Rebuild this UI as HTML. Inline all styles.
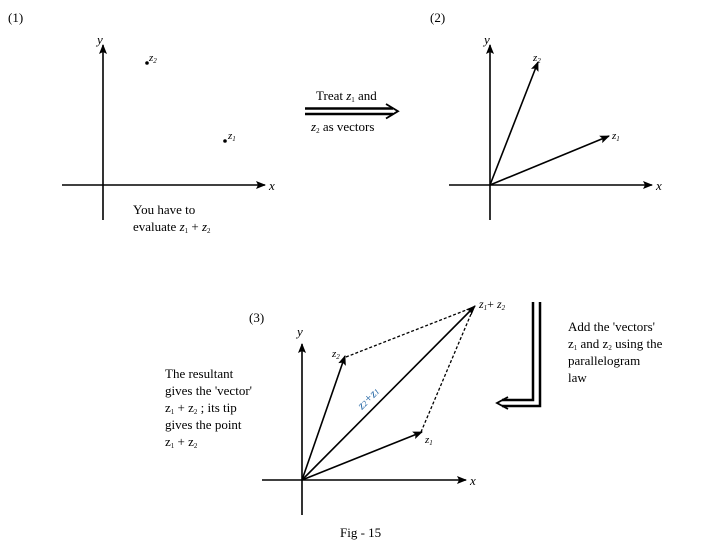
<!DOCTYPE html>
<html><head><style>
body{margin:0;background:#fff}
svg{display:block;font-family:"Liberation Serif",serif;font-size:13px}
.i{font-style:italic}
</style></head><body>
<svg width="708" height="545" viewBox="0 0 708 545">
<defs>
<marker id="a" markerWidth="10" markerHeight="8" refX="9" refY="4" orient="auto" markerUnits="userSpaceOnUse"><path d="M0,0 L10,4 L0,8 L2,4Z" fill="#000"/></marker>
</defs>
<g stroke="#000" stroke-width="1.6" fill="none">
<line x1="62" y1="185" x2="265" y2="185" marker-end="url(#a)"/>
<line x1="103" y1="220" x2="103" y2="45" marker-end="url(#a)"/>
<line x1="449" y1="185" x2="652" y2="185" marker-end="url(#a)"/>
<line x1="490" y1="220" x2="490" y2="45" marker-end="url(#a)"/>
<line x1="490" y1="185" x2="538" y2="62" marker-end="url(#a)"/>
<line x1="490" y1="185" x2="609" y2="136" marker-end="url(#a)"/>
<line x1="305" y1="108.5" x2="393" y2="108.5" stroke-width="2.5"/>
<line x1="305" y1="114" x2="393" y2="114" stroke-width="2.5"/>
<path d="M386,104 L398,111.2 L386,118.5" stroke-width="1.8"/>
<line x1="262" y1="480" x2="466" y2="480" marker-end="url(#a)"/>
<line x1="302" y1="515" x2="302" y2="344" marker-end="url(#a)"/>
<line x1="302" y1="480" x2="345" y2="356" marker-end="url(#a)"/>
<line x1="302" y1="480" x2="422" y2="432" marker-end="url(#a)"/>
<line x1="302" y1="480" x2="475" y2="306" marker-end="url(#a)"/>
<line x1="346" y1="357" x2="474" y2="307" stroke-dasharray="3,2" stroke-width="1.3"/>
<line x1="421" y1="432" x2="474" y2="307" stroke-dasharray="3,2" stroke-width="1.3"/>
<path d="M533,302 V400 H502" stroke-width="2.5"/>
<path d="M540,302 V406 H502" stroke-width="2.5"/>
<path d="M508,397 L497,403 L508,409" stroke-width="1.8"/>
</g>
<circle cx="147" cy="63" r="1.8"/><circle cx="225" cy="141" r="1.8"/>
<text x="8" y="22">(1)</text>
<text x="430" y="22">(2)</text>
<text x="97" y="44" class="i">y</text>
<text x="269" y="190" class="i">x</text>
<text x="149" y="61" class="i" font-size="11">z<tspan font-size="7" dy="2">2</tspan></text>
<text x="228" y="139" class="i" font-size="11">z<tspan font-size="7" dy="2">1</tspan></text>
<text x="133" y="214">You have to</text>
<text x="133" y="231">evaluate <tspan class="i">z</tspan><tspan font-size="7" dy="2">1</tspan><tspan dy="-2"> + </tspan><tspan class="i">z</tspan><tspan font-size="7" dy="2">2</tspan></text>
<text x="484" y="44" class="i">y</text>
<text x="656" y="190" class="i">x</text>
<text x="533" y="61" class="i" font-size="11">z<tspan font-size="7" dy="2">2</tspan></text>
<text x="612" y="139" class="i" font-size="11">z<tspan font-size="7" dy="2">1</tspan></text>
<text x="316" y="100">Treat <tspan class="i">z</tspan><tspan font-size="7" dy="2">1</tspan><tspan dy="-2"> and</tspan></text>
<text x="311" y="131"><tspan class="i">z</tspan><tspan font-size="7" dy="2">2</tspan><tspan dy="-2"> as vectors</tspan></text>
<text x="249" y="322">(3)</text>
<text x="297" y="336" class="i">y</text>
<text x="470" y="485" class="i">x</text>
<text x="332" y="357" class="i" font-size="11">z<tspan font-size="7" dy="2">2</tspan></text>
<text x="425" y="443" class="i" font-size="11">z<tspan font-size="7" dy="2">1</tspan></text>
<text x="479" y="308" class="i" font-size="12">z<tspan font-size="7" dy="2">1</tspan><tspan dy="-2" font-style="normal">+ </tspan>z<tspan font-size="7" dy="2">2</tspan></text>
<text transform="translate(362,410) rotate(-45)" class="i" font-size="12" fill="#1a5fa0">z<tspan font-size="8">2</tspan>+z<tspan font-size="8">1</tspan></text>
<text x="165" y="378">The resultant</text>
<text x="165" y="395">gives the 'vector'</text>
<text x="165" y="412">z<tspan font-size="7" dy="2">1</tspan><tspan dy="-2"> + z</tspan><tspan font-size="7" dy="2">2</tspan><tspan dy="-2"> ; its tip</tspan></text>
<text x="165" y="429">gives the point</text>
<text x="165" y="446">z<tspan font-size="7" dy="2">1</tspan><tspan dy="-2"> + z</tspan><tspan font-size="7" dy="2">2</tspan></text>
<text x="568" y="331">Add the 'vectors'</text>
<text x="568" y="348">z<tspan font-size="7" dy="2">1</tspan><tspan dy="-2"> and z</tspan><tspan font-size="7" dy="2">2</tspan><tspan dy="-2"> using the</tspan></text>
<text x="568" y="365">parallelogram</text>
<text x="568" y="382">law</text>
<text x="340" y="537">Fig - 15</text>
</svg>
</body></html>
